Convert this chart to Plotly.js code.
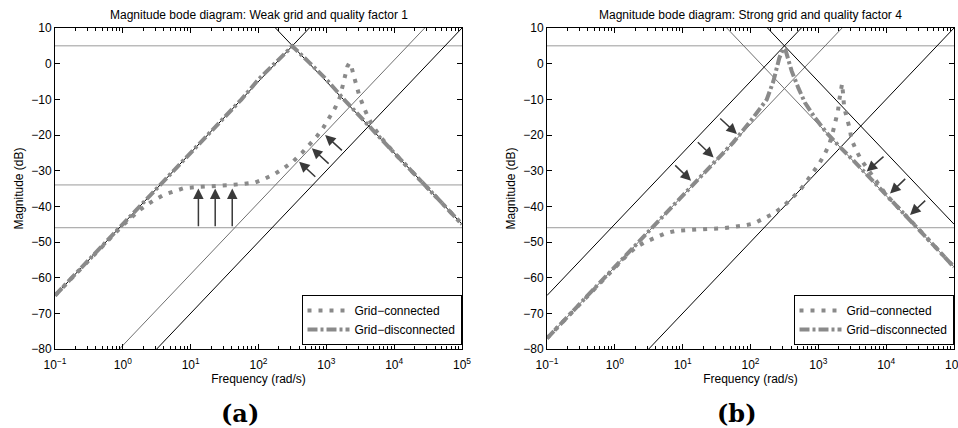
<!DOCTYPE html>
<html>
<head>
<meta charset="utf-8">
<script src="https://cdn.plot.ly/plotly-3.0.1.min.js"></script>
<style>html,body{margin:0;padding:0;background:#fff;}#plot{width:958px;height:428px;}</style>
</head>
<body>
<div id="plot"></div>
<script>
// ---------- Data (frequency in rad/s, magnitude in dB) ----------
// Panel (a): weak grid, quality factor 1
const freqA_conn = [0.1, 0.316, 1, 1.78, 2.82, 3.98, 5.62, 7.94, 12.6, 17.8, 25.1, 39.8, 60.3, 89.1, 126, 178, 240, 324, 437, 562, 724, 912, 1122, 1349, 1585, 1738, 1905, 2042, 2188, 2344, 2512, 2754, 3090, 3548, 4074, 4898, 6310, 10000, 31623, 100000];
const magA_conn  = [-65, -55, -45.3, -41, -38.4, -36.8, -35.7, -34.9, -34.6, -34.5, -34.2, -34.0, -33.7, -33.3, -32.2, -30.8, -29.2, -27.4, -25.0, -22.9, -20.4, -17.8, -15.2, -12.4, -9.4, -6.6, -3.5, -0.8, 0.2, -0.8, -3.1, -6.1, -9.2, -12.1, -14.8, -17.6, -20.6, -25, -35, -45];
const freqA_disc = [0.1, 0.316, 1, 3.16, 10, 31.6, 56.2, 100, 178, 316, 562, 1000, 1778, 3162, 10000, 31623, 100000];
const magA_disc  = [-65, -55, -45, -35, -25, -15, -10, -4.4, 0.3, 4.9, 0.3, -4.4, -9.8, -15, -25, -35, -45];

// Panel (b): strong grid, quality factor 4
const freqB_conn = [0.1, 0.316, 1, 1.41, 2.0, 2.69, 3.72, 5.5, 7.76, 11.5, 17.4, 24, 36.3, 53.7, 79.4, 112, 155, 219, 302, 398, 525, 661, 832, 1023, 1230, 1445, 1622, 1778, 1950, 2042, 2138, 2239, 2317, 2399, 2630, 2884, 3090, 3631, 4365, 5623, 10000, 31623, 100000];
const magB_conn  = [-77, -67, -57, -54.3, -51.6, -50.2, -49.0, -47.6, -46.9, -46.6, -46.4, -46.3, -46.2, -45.9, -45.4, -44.8, -43.4, -42.0, -40.1, -38.0, -35.7, -33.2, -30.7, -28.1, -25.5, -22.7, -19.5, -16.4, -13.2, -10.1, -6.8, -5.6, -8.5, -12.1, -15.2, -18.0, -21.3, -24.4, -27.2, -30, -36.8, -46.8, -57];
const freqB_disc = [0.1, 0.316, 1, 3.16, 10, 31.6, 56.2, 104, 130, 173, 217, 248, 266, 305, 331, 361, 405, 507, 637, 893, 1330, 2089, 3162, 10000, 31623, 100000];
const magB_disc  = [-77, -67, -57, -47, -37, -27, -22, -15.7, -13.4, -10.1, -5, -0.7, 1.6, 4.3, 3.6, 1.1, -2.1, -6.8, -11, -15.2, -19.4, -23.4, -26.8, -36.8, -46.8, -57];

// Reference lines: [f1, f2], [dB1, dB2]
const linesA_black = [
  {f: [0.1, 562], m: [-65, 10]},
  {f: [178, 100000], m: [10, -45]},
  {f: [3.16, 100000], m: [-80, 10]}
];
const linesA_thin = [
  {f: [0.891, 28184], m: [-80, 10]}
];
const levelsA = [5, -34, -46];

const linesB_black = [
  {f: [0.1, 562], m: [-65, 10]},
  {f: [178, 100000], m: [10, -45]},
  {f: [3.16, 100000], m: [-80, 10]}
];
const linesB_thin = [
  {f: [0.1, 2239], m: [-77, 10]},
  {f: [44.7, 100000], m: [10, -57]}
];
const levelsB = [5, -46];

// Arrows: tail (f, dB) -> head (f, dB)
const arrowsA_tailF = [13, 23, 41, 1786, 1138, 724];
const arrowsA_tailM = [-46, -46, -46, -24.7, -28.4, -32.1];
const arrowsA_headF = [13, 23, 41, 959, 611, 397];
const arrowsA_headM = [-35, -35, -35, -20.0, -23.7, -27.5];

const arrowsB_tailF = [7.38, 15.9, 34.0, 9616, 20090, 39630];
const arrowsB_tailM = [-28.1, -21.6, -15.0, -25.7, -31.9, -38.0];
const arrowsB_headF = [13.3, 28.6, 63.2, 5164, 11400, 22490];
const arrowsB_headM = [-32.8, -26.3, -19.7, -30.2, -36.4, -42.4];

const xTickVals = [0.1, 1, 10, 100, 1000, 10000, 100000];
const xTickText = ['10<sup>−1</sup>', '10<sup>0</sup>', '10<sup>1</sup>', '10<sup>2</sup>', '10<sup>3</sup>', '10<sup>4</sup>', '10<sup>5</sup>'];
const titleA = 'Magnitude bode diagram: Weak grid and quality factor 1';
const titleB = 'Magnitude bode diagram: Strong grid and quality factor 4';
const legendNames = ['Grid−connected', 'Grid−disconnected'];

// ---------- Build ----------
const W = 958, H = 428;
const FONT = 'Liberation Sans, Arial, Helvetica, sans-serif';
const curveColor = '#8a8a8a';
const dotDash = '4px,7px';
const dashDot = '10px,3px,3px,3px';

const traces = [];
function refLines(lines, xa, ya, color, width) {
  lines.forEach(l => traces.push({x: l.f, y: l.m, xaxis: xa, yaxis: ya, mode: 'lines',
    line: {color: color, width: width}, showlegend: false, hoverinfo: 'skip'}));
}
function levels(lv, xa, ya) {
  lv.forEach(v => traces.push({x: [0.1, 100000], y: [v, v], xaxis: xa, yaxis: ya, mode: 'lines',
    line: {color: '#9a9a9a', width: 1}, showlegend: false, hoverinfo: 'skip'}));
}
levels(levelsA, 'x', 'y');
refLines(linesA_thin, 'x', 'y', '#6f6f6f', 1);
refLines(linesA_black, 'x', 'y', '#000000', 1);
levels(levelsB, 'x2', 'y2');
refLines(linesB_thin, 'x2', 'y2', '#6f6f6f', 1);
refLines(linesB_black, 'x2', 'y2', '#000000', 1);

traces.push({x: freqA_conn, y: magA_conn, xaxis: 'x', yaxis: 'y', mode: 'lines', name: legendNames[0],
  line: {color: curveColor, width: 4, dash: dotDash}, legend: 'legend'});
traces.push({x: freqA_disc, y: magA_disc, xaxis: 'x', yaxis: 'y', mode: 'lines', name: legendNames[1],
  line: {color: curveColor, width: 4, dash: dashDot}, legend: 'legend'});
traces.push({x: freqB_conn, y: magB_conn, xaxis: 'x2', yaxis: 'y2', mode: 'lines', name: legendNames[0],
  line: {color: curveColor, width: 4, dash: dotDash}, legend: 'legend2'});
traces.push({x: freqB_disc, y: magB_disc, xaxis: 'x2', yaxis: 'y2', mode: 'lines', name: legendNames[1],
  line: {color: curveColor, width: 4, dash: dashDot}, legend: 'legend2'});

const minorVals = [];
for (let d = -1; d < 5; d++) for (let k = 2; k <= 9; k++) minorVals.push(k * Math.pow(10, d));

const px2x = p => p / W;
const px2y = p => 1 - p / H;

function xAxis(domain, anchor) {
  return {type: 'log', range: [-1, 5], domain: domain, anchor: anchor,
    tickmode: 'array', tickvals: xTickVals, ticktext: xTickText,
    ticks: 'inside', ticklen: 5, tickwidth: 1, tickcolor: '#000',
    ticklabelstandoff: 5, ticklabeloverflow: 'allow',
    minor: {tickmode: 'array', tickvals: minorVals, ticks: 'inside', ticklen: 3, tickwidth: 1, tickcolor: '#000', showgrid: false},
    showline: true, linecolor: '#000', linewidth: 1, mirror: 'ticks',
    showgrid: false, zeroline: false, automargin: false,
    tickfont: {family: FONT, size: 12, color: '#000'},
    title: {text: 'Frequency (rad/s)', font: {family: FONT, size: 12, color: '#000'}, standoff: 3}};
}
function yAxis(domain, anchor) {
  return {range: [-80, 10], domain: domain, anchor: anchor, tick0: 0, dtick: 10,
    ticks: 'inside', ticklen: 5, tickwidth: 1, tickcolor: '#000',
    showline: true, linecolor: '#000', linewidth: 1, mirror: 'ticks',
    showgrid: false, zeroline: false, automargin: false,
    tickfont: {family: FONT, size: 12, color: '#000'},
    title: {text: 'Magnitude (dB)', font: {family: FONT, size: 12, color: '#000'}, standoff: 5}};
}

const yDom = [px2y(349), px2y(28)];
const annotations = [];
function addArrows(tf, tm, hf, hm, xr, yr) {
  for (let i = 0; i < tf.length; i++) {
    annotations.push({x: Math.log10(hf[i]), y: hm[i], ax: Math.log10(tf[i]), ay: tm[i],
      xref: xr, yref: yr, axref: xr, ayref: yr, text: '', showarrow: true,
      arrowhead: 2, arrowsize: 1.4, arrowwidth: 1.5, arrowcolor: '#3a3a3a', standoff: 0});
  }
}
addArrows(arrowsA_tailF, arrowsA_tailM, arrowsA_headF, arrowsA_headM, 'x', 'y');
addArrows(arrowsB_tailF, arrowsB_tailM, arrowsB_headF, arrowsB_headM, 'x2', 'y2');

annotations.push({text: titleA, xref: 'paper', yref: 'paper', x: px2x(258.5), y: px2y(15), showarrow: false,
  xanchor: 'center', yanchor: 'middle', font: {family: FONT, size: 12, color: '#000'}});
annotations.push({text: titleB, xref: 'paper', yref: 'paper', x: px2x(750.5), y: px2y(15), showarrow: false,
  xanchor: 'center', yanchor: 'middle', font: {family: FONT, size: 12, color: '#000'}});
annotations.push({text: '<b>(a)</b>', xref: 'paper', yref: 'paper', x: px2x(240), y: px2y(413), showarrow: false,
  xanchor: 'center', yanchor: 'middle', font: {family: 'DejaVu Serif, Liberation Serif, serif', size: 24, color: '#000'}});
annotations.push({text: '<b>(b)</b>', xref: 'paper', yref: 'paper', x: px2x(737), y: px2y(413), showarrow: false,
  xanchor: 'center', yanchor: 'middle', font: {family: 'DejaVu Serif, Liberation Serif, serif', size: 24, color: '#000'}});

const legendStyle = {bgcolor: '#fff', bordercolor: '#000', borderwidth: 1, itemwidth: 42,
  font: {family: FONT, size: 12, color: '#000'}, tracegroupgap: 0, xanchor: 'right', yanchor: 'bottom'};

const layout = {
  width: W, height: H, margin: {l: 0, r: 0, t: 0, b: 0},
  paper_bgcolor: '#fff', plot_bgcolor: '#fff',
  xaxis: xAxis([px2x(55), px2x(462)], 'y'),
  yaxis: yAxis(yDom, 'x'),
  xaxis2: xAxis([px2x(547), px2x(954)], 'y2'),
  yaxis2: yAxis(yDom, 'x2'),
  legend: Object.assign({x: px2x(461.5), y: px2y(345)}, legendStyle),
  legend2: Object.assign({x: px2x(953.5), y: px2y(345)}, legendStyle),
  annotations: annotations,
  showlegend: true
};

Plotly.newPlot('plot', traces, layout, {staticPlot: true, displayModeBar: false});
</script>
</body>
</html>
